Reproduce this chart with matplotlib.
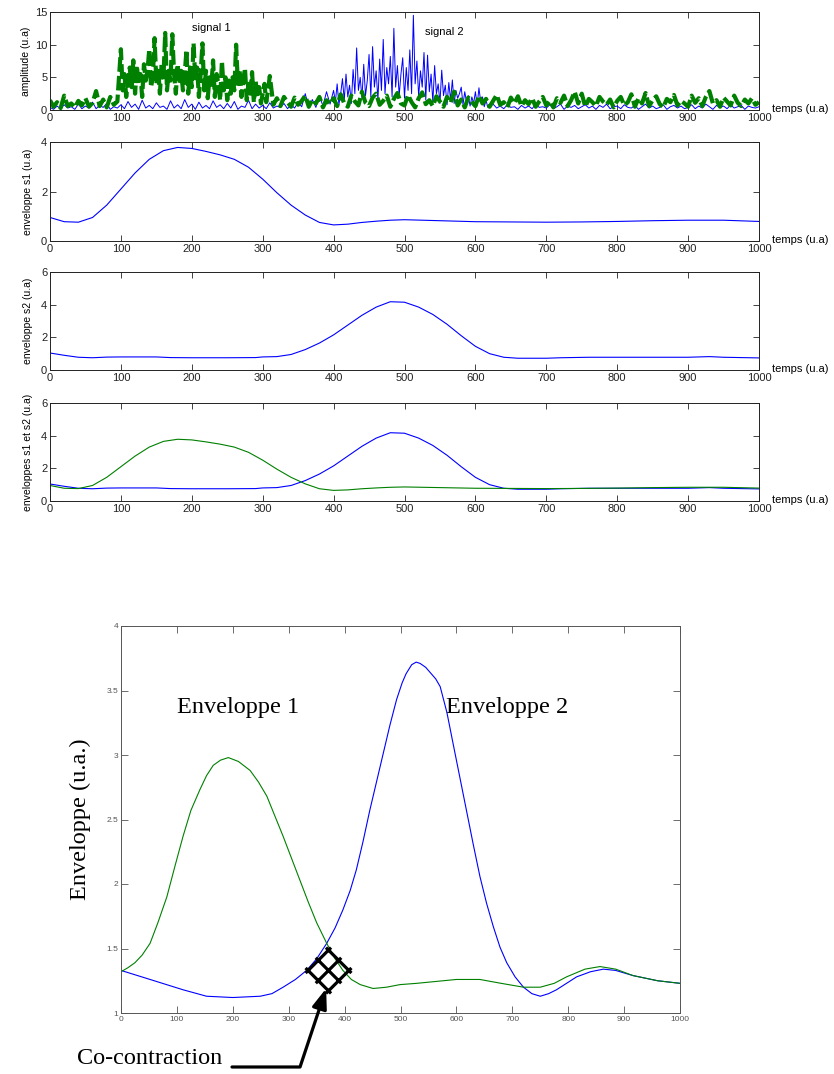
import numpy as np
import matplotlib
matplotlib.use("Agg")
import matplotlib.pyplot as plt
from matplotlib.path import Path

plt.rcParams["font.family"] = ["Liberation Sans", "DejaVu Sans"]

# ---- raw signals ----
# signal 2: every 5 units, except every 2.5 units in the burst 400-620
t_sig2 = np.concatenate([np.arange(0, 400, 5), np.arange(400, 620.1, 2.5), np.arange(625, 1001, 5)])
signal2 = [
    # 0 - 395
    0.4, 0.1, 0.6, 0.2, 0.8, 0.3, 0.5, 0.1, 0.9, 0.2, 0.6, 0.3, 1.2, 0.2, 0.7, 0.4, 1.0, 0.1, 0.5, 0.3,
    0.8, 0.2, 1.3, 0.4, 0.9, 0.1, 1.5, 0.3, 0.7, 0.2, 1.1, 0.4, 0.6, 0.1, 1.4, 0.3, 0.8, 0.2, 1.6, 0.4,
    0.9, 0.1, 1.2, 0.3, 0.7, 0.2, 1.4, 0.4, 0.8, 0.2, 1.0, 0.3, 1.3, 0.1, 0.6, 0.4, 1.5, 0.2, 0.9, 0.3,
    0.7, 0.2, 1.1, 0.3, 0.6, 0.4, 1.0, 0.2, 0.8, 0.3, 1.2, 0.5, 2.5, 0.3, 1.6, 0.4, 2.2, 0.6, 2.8, 0.9,
    # 400 - 620
    3.0, 1.2, 4.0, 0.8, 2.5, 4.8, 1.5, 5.5, 2.0, 3.8,
    1.0, 6.2, 2.5, 9.5, 3.0, 5.0, 1.8, 7.0, 2.2, 4.5,
    8.5, 2.0, 9.7, 3.5, 6.0, 1.5, 7.8, 3.0, 10.8, 2.5,
    6.5, 4.0, 8.2, 2.0, 12.5, 3.5, 6.8, 2.2, 5.5, 8.0,
    1.8, 6.5, 3.0, 9.2, 2.5, 14.5, 4.0, 7.5, 2.0, 6.0,
    3.5, 8.8, 1.5, 8.4, 2.8, 5.5, 1.2, 6.8, 2.5, 4.0,
    1.0, 6.1, 2.2, 3.8, 0.8, 4.2, 1.5, 4.6, 1.0, 3.0,
    1.8, 2.5, 3.5, 0.8, 2.8, 1.2, 2.2, 0.6, 2.0, 1.0,
    2.8, 0.7, 3.4, 1.2, 2.0, 0.5, 1.5, 0.4, 0.8,
    # 625 - 1000
    0.9, 0.3, 0.6, 0.2, 0.8, 0.4, 0.5, 0.1, 0.7, 0.3, 0.6, 0.2, 0.9, 0.4, 0.5,
    0.3, 0.8, 0.2, 0.5, 0.9, 0.1, 0.6, 0.4, 0.7, 0.2, 0.5, 0.8, 0.3, 0.6, 0.1, 0.7, 0.4, 0.9, 0.2, 0.5,
    0.6, 0.2, 0.8, 0.4, 0.3, 0.7, 0.1, 0.5, 0.9, 0.3, 0.6, 0.2, 0.4, 0.8, 0.1, 0.5, 0.7, 0.3, 0.6, 0.2,
    0.4, 0.8, 0.2, 0.6, 0.3, 0.9, 0.5, 0.1, 0.7, 0.4, 0.6, 0.2, 0.8, 0.3, 0.5, 0.7, 0.1, 0.6, 0.4, 0.3,
    0.5,
]
# signal 1: every 5 units, except every 2.5 units in the burst 100-310
t_sig1 = np.concatenate([np.arange(0, 100, 5), np.arange(100, 310.1, 2.5), np.arange(315, 1001, 5)])
signal1 = [
    # 0 - 95
    1.5, 0.5, 1.2, 0.3, 2.2, 0.6, 1.0, 0.4, 1.4, 0.7, 1.8, 0.5, 1.1, 2.9, 0.6, 1.6, 0.4, 2.0, 0.8, 1.3,
    # 100 - 310
    9.3, 3.0, 5.5, 2.0, 4.5, 6.5, 3.5, 7.6, 2.5, 6.8,
    4.0, 5.5, 2.0, 7.0, 4.5, 6.0, 9.3, 3.5, 5.0, 11.0,
    4.0, 6.5, 2.5, 7.2, 5.0, 11.8, 3.0, 6.0, 4.5, 11.6,
    5.5, 2.5, 7.0, 4.0, 6.0, 3.0, 5.5, 9.2, 2.5, 6.5,
    3.5, 10.2, 4.5, 6.5, 2.0, 5.5, 10.2, 3.0, 6.0, 1.8,
    5.0, 3.5, 7.6, 2.0, 5.5, 4.0, 1.5, 7.5, 3.0, 5.0,
    1.5, 4.5, 2.5, 5.0, 3.0, 10.0, 4.0, 6.0, 2.0, 4.5,
    6.4, 1.5, 4.0, 2.5, 5.8, 1.2, 4.5, 2.0, 3.5, 1.0,
    2.5, 4.0, 1.2, 3.0, 5.2,
    # 315 - 1000
    0.8, 1.8, 0.6, 2.0, 1.2, 0.5, 1.9, 0.8, 1.4, 2.2, 0.5, 1.6, 1.0, 2.0, 0.4, 1.5, 0.9,
    1.8, 0.6, 2.4, 1.0, 0.5, 2.2, 1.3, 0.7, 2.8, 1.1, 0.6, 1.9, 2.5, 0.8, 1.4, 2.2, 0.5, 1.7, 2.6, 1.0,
    0.7, 2.3, 1.2, 0.4, 1.8, 2.7, 0.9, 1.5, 0.6, 2.1, 1.3, 0.5, 2.0, 1.1, 2.8, 0.7, 1.6, 0.4, 1.9, 1.2,
    0.6, 2.2, 1.0, 1.7, 0.5, 1.4, 2.3, 0.8, 1.2, 0.4, 1.9, 1.0, 2.1, 0.6, 1.5, 0.9, 1.8, 0.5, 1.3, 2.0,
    0.7, 1.4, 0.4, 1.8, 1.1, 2.2, 0.6, 1.5, 2.8, 1.0, 2.5, 0.5, 1.7, 1.2, 0.6, 2.0, 1.3, 0.8, 1.6, 0.4,
    1.4, 2.0, 0.7, 1.2, 2.4, 0.5, 1.8, 1.0, 2.6, 0.6, 1.5, 2.1, 0.9, 0.4, 1.7, 1.2, 2.3, 0.7, 1.4, 1.0,
    0.5, 2.2, 1.1, 1.8, 0.6, 2.0, 2.9, 1.0, 1.5, 0.5, 1.9, 1.3, 0.7, 2.2, 1.1, 0.6, 1.6, 1.0, 1.8, 0.8,
    1.2,
]

# ---- envelopes (top panels) ----
t_env1 = [0, 20, 40, 60, 80, 100, 120, 140, 160, 180, 200, 220, 240, 260, 280, 300, 320, 340, 360,
          380, 400, 420, 440, 460, 480, 500, 550, 600, 650, 700, 750, 800, 850, 900, 950, 1000]
env1 = [0.95, 0.78, 0.76, 0.95, 1.45, 2.1, 2.75, 3.3, 3.65, 3.78, 3.74, 3.62, 3.48, 3.3, 2.98, 2.5,
        1.95, 1.45, 1.05, 0.75, 0.65, 0.68, 0.75, 0.8, 0.84, 0.86, 0.82, 0.78, 0.77, 0.76, 0.77,
        0.79, 0.82, 0.84, 0.84, 0.79]
t_env2 = [0, 20, 40, 60, 80, 100, 150, 170, 200, 250, 290, 300, 320, 340, 360, 380, 400, 420, 440,
          460, 480, 500, 520, 540, 560, 580, 600, 620, 640, 660, 700, 720, 760, 900, 930, 950, 1000]
env2 = [1.04, 0.9, 0.78, 0.75, 0.79, 0.8, 0.8, 0.76, 0.75, 0.75, 0.76, 0.8, 0.82, 0.95, 1.25, 1.65,
        2.15, 2.75, 3.35, 3.85, 4.18, 4.15, 3.85, 3.4, 2.8, 2.1, 1.45, 1.0, 0.78, 0.72, 0.72, 0.75,
        0.78, 0.78, 0.82, 0.78, 0.74]

# ---- envelopes (bottom panel) ----
t_big1 = [0, 12, 25, 38, 52, 66, 82, 96, 111, 125, 141, 153, 165, 178, 192, 210, 231, 246, 261,
          275, 290, 305, 320, 335, 350, 368, 383, 397, 412, 428, 451, 475, 499, 529, 600, 642,
          680, 720, 750, 775, 797, 830, 857, 885, 916, 960, 1000]
big1 = [1.32, 1.35, 1.39, 1.45, 1.54, 1.7, 1.9, 2.13, 2.37, 2.57, 2.73, 2.84, 2.92, 2.96, 2.98,
        2.95, 2.88, 2.79, 2.68, 2.53, 2.37, 2.2, 2.03, 1.86, 1.7, 1.54, 1.42, 1.33, 1.26, 1.22,
        1.19, 1.2, 1.22, 1.23, 1.26, 1.26, 1.23, 1.2, 1.2, 1.23, 1.28, 1.34, 1.36, 1.34, 1.29,
        1.25, 1.23]
t_big2 = [0, 52, 111, 153, 200, 249, 270, 290, 312, 332, 350, 368, 383, 397, 410, 421, 433, 445,
          457, 469, 481, 493, 503, 510, 520, 528, 535, 545, 555, 563, 571, 583, 594, 606, 618, 630,
          642, 654, 666, 678, 690, 705, 720, 735, 750, 765, 779, 797, 815, 840, 863, 885, 916,
          960, 1000]
big2 = [1.33, 1.26, 1.18, 1.13, 1.12, 1.13, 1.15, 1.2, 1.26, 1.33, 1.42, 1.54, 1.66, 1.8, 1.95,
        2.11, 2.33, 2.57, 2.79, 3.01, 3.23, 3.43, 3.56, 3.63, 3.70, 3.72, 3.71, 3.68, 3.63, 3.59,
        3.53, 3.33, 3.09, 2.83, 2.57, 2.31, 2.06, 1.85, 1.67, 1.51, 1.39, 1.28, 1.2, 1.15, 1.13,
        1.15, 1.18, 1.23, 1.28, 1.32, 1.34, 1.33, 1.29, 1.25, 1.23]

xticks = np.arange(0, 1001, 100)
BLUE = "#0000ff"
GREEN = "#008000"
W, H = 834, 1074


def box(x0, top, x1, bottom):
    # pixel box -> figure fraction rect
    return [x0 / W, 1 - bottom / H, (x1 - x0) / W, (bottom - top) / H]


def matlab_axes(ax, ylim, yticks, fs=8, color="#222222", length=4):
    ax.set_xlim(0, 1000)
    ax.set_ylim(*ylim)
    ax.set_xticks(xticks)
    ax.set_yticks(yticks)
    ax.tick_params(direction="in", top=True, right=True, labelsize=fs, length=length,
                   width=0.6, colors=color, pad=2)
    for s in ax.spines.values():
        s.set_color(color)
        s.set_linewidth(0.7)


fig = plt.figure(figsize=(W / 100, H / 100), dpi=100)

ax1 = fig.add_axes(box(50, 12, 759, 110))
ax1.plot(t_sig2, signal2, color=BLUE, lw=0.7)
ax1.plot(t_sig1, signal1, color=GREEN, lw=3, linestyle=(0, (3.5, 1)))
matlab_axes(ax1, (0, 15), [0, 5, 10, 15])
ax1.set_ylabel("amplitude (u.a)", fontsize=7.5, labelpad=3)
ax1.text(200, 12.6, "signal 1", fontsize=8, va="center")
ax1.text(529, 11.9, "signal 2", fontsize=8, va="center")

ax2 = fig.add_axes(box(50, 142, 759, 241))
ax2.plot(t_env1, env1, color=BLUE, lw=0.8)
matlab_axes(ax2, (0, 4), [0, 2, 4])
ax2.set_ylabel("enveloppe s1 (u.a)", fontsize=7.5, labelpad=6)

ax3 = fig.add_axes(box(50, 272, 759, 370))
ax3.plot(t_env2, env2, color=BLUE, lw=0.8)
matlab_axes(ax3, (0, 6), [0, 2, 4, 6])
ax3.set_ylabel("enveloppe s2 (u.a)", fontsize=7.5, labelpad=6)

ax4 = fig.add_axes(box(50, 403, 759, 501))
ax4.plot(t_env2, env2, color=BLUE, lw=0.8)
ax4.plot(t_env1, env1, color=GREEN, lw=0.8)
matlab_axes(ax4, (0, 6), [0, 2, 4, 6])
ax4.set_ylabel("enveloppes s1 et s2 (u.a)", fontsize=7.5, labelpad=6)

for ax in (ax1, ax2, ax3, ax4):
    ax.text(1.018, 0.01, "temps (u.a)", transform=ax.transAxes, fontsize=8, va="center")

# ---- bottom panel ----
ax5 = fig.add_axes(box(121, 626, 680, 1013))
ax5.plot(t_big2, big2, color=BLUE, lw=0.8)
ax5.plot(t_big1, big1, color=GREEN, lw=0.8)
matlab_axes(ax5, (1, 4), [1, 1.5, 2, 2.5, 3, 3.5, 4], fs=6, color="#555555", length=5)
ax5.set_yticklabels(["1", "1.5", "2", "2.5", "3", "3.5", "4"])
ax5.set_ylabel("Enveloppe (u.a.)", fontsize=17.5, family="Liberation Serif", labelpad=11)
ax5.text(100, 3.37, "Enveloppe 1", fontsize=17.5, family="Liberation Serif", va="center")
ax5.text(582, 3.37, "Enveloppe 2", fontsize=17.5, family="Liberation Serif", va="center")

# co-contraction marker: rotated grid square
e = 1.25
verts, codes = [], []
for c in (-1, 0, 1):
    for a, b in (((c, -e), (c, e)), ((-e, c), (e, c))):
        for k, (u, v) in enumerate((a, b)):
            verts.append(((u - v) / np.sqrt(2), (u + v) / np.sqrt(2)))
            codes.append(Path.MOVETO if k == 0 else Path.LINETO)
grid_marker = Path(verts, codes)
ax5.plot([370], [1.33], marker=grid_marker, ms=33, mfc="none", mec="k", mew=2.3,
         linestyle="none", clip_on=False)

ax5.annotate("", xy=(367, 1.19), xycoords="data", xytext=(232, 7), textcoords="figure pixels",
             arrowprops=dict(arrowstyle="-|>,head_length=0.6,head_width=0.22", color="k", lw=2.3,
                             mutation_scale=20, shrinkA=0, shrinkB=0,
                             connectionstyle="angle,angleA=0,angleB=71.6,rad=0"),
             annotation_clip=False)
fig.text(77 / W, 1 - 1058 / H, "Co-contraction", fontsize=17.5, family="Liberation Serif",
         va="center", ha="left")

fig.savefig("out.png", dpi=100)
